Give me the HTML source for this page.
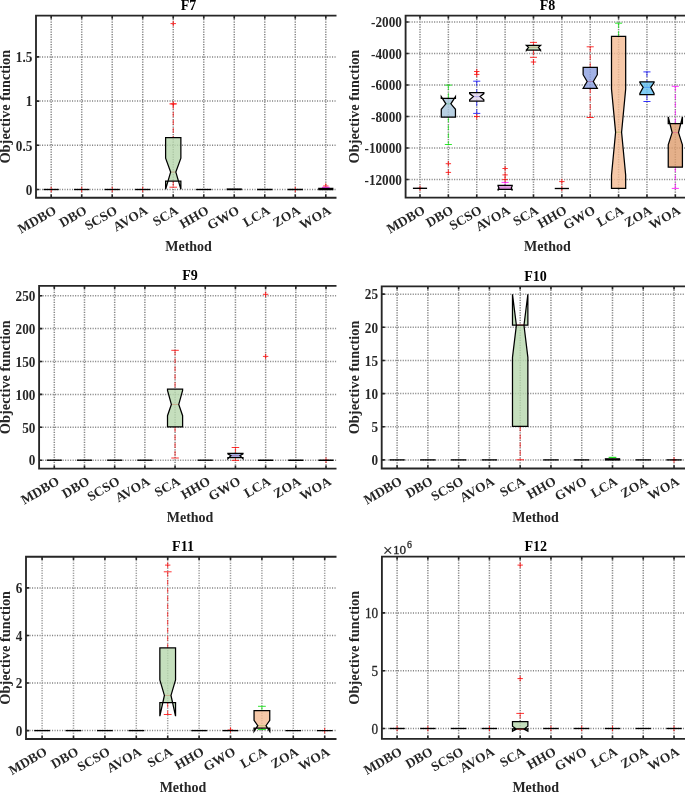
<!DOCTYPE html>
<html><head><meta charset="utf-8"><style>
html,body{margin:0;padding:0;background:#fff;}
body{width:685px;height:792px;overflow:hidden;}
svg{display:block;font-family:"Liberation Serif", serif;will-change:transform;}
</style></head><body>
<svg width="685" height="792" viewBox="0 0 685 792">
<rect width="685" height="792" fill="#fff"/>
<clipPath id="c1"><rect x="0" y="0" width="336.5" height="792"/></clipPath>
<g clip-path="url(#c1)">
<path d="M51.2 16.6V196.7M81.71 16.6V196.7M112.22 16.6V196.7M142.73 16.6V196.7M173.24 16.6V196.7M203.75 16.6V196.7M234.26 16.6V196.7M264.77 16.6V196.7M295.28 16.6V196.7M325.79 16.6V196.7M37 189.5H341M37 145.3H341M37 101.1H341M37 56.9H341" stroke="#5e5e5e" stroke-width="1.5" stroke-dasharray="1.1 1.4" opacity="0.75" fill="none"/>
<path d="M48.5 189.5H53.9M51.2 186.8V192.2" stroke="#ff0000" stroke-width="0.95" opacity="0.85"/>
<line x1="43.57" y1="189.5" x2="58.83" y2="189.5" stroke="#000" stroke-width="1.35"/>
<path d="M79.01 189.5H84.41M81.71 186.8V192.2" stroke="#ff0000" stroke-width="0.95" opacity="0.85"/>
<line x1="74.08" y1="189.5" x2="89.34" y2="189.5" stroke="#000" stroke-width="1.35"/>
<path d="M109.52 189.5H114.92M112.22 186.8V192.2" stroke="#ff0000" stroke-width="0.95" opacity="0.85"/>
<line x1="104.59" y1="189.5" x2="119.85" y2="189.5" stroke="#000" stroke-width="1.35"/>
<path d="M140.03 189.5H145.43M142.73 186.8V192.2" stroke="#ff0000" stroke-width="0.95" opacity="0.85"/>
<line x1="135.1" y1="189.5" x2="150.36" y2="189.5" stroke="#000" stroke-width="1.35"/>
<line x1="173.24" y1="103.9" x2="173.24" y2="137.6" stroke="#ff0000" stroke-width="1" stroke-dasharray="5 3" opacity="0.7"/>
<line x1="169.43" y1="103.9" x2="177.05" y2="103.9" stroke="#ff0000" stroke-width="1" opacity="0.8"/>
<line x1="173.24" y1="181" x2="173.24" y2="187.2" stroke="#ff0000" stroke-width="1" stroke-dasharray="5 3" opacity="0.7"/>
<line x1="169.43" y1="187.2" x2="177.05" y2="187.2" stroke="#ff0000" stroke-width="1" opacity="0.8"/>
<path d="M170.54 23.6H175.94M173.24 20.9V26.3" stroke="#ff0000" stroke-width="0.95" opacity="0.85"/>
<path d="M170.54 103.9H175.94M173.24 101.2V106.6" stroke="#ff0000" stroke-width="0.95" opacity="0.85"/>
<line x1="170.64" y1="172.1" x2="175.84" y2="172.1" stroke="#ff0000" stroke-width="1"/>
<path d="M165.61 137.6L180.87 137.6L180.87 158.1L175.84 172.1L180.87 189.3L180.87 181L165.61 181L165.61 189.3L170.64 172.1L165.61 158.1Z" fill="#b6d7ac" fill-opacity="0.8" stroke="#000" stroke-width="1.25" stroke-linejoin="miter"/>
<line x1="196.12" y1="189.5" x2="211.38" y2="189.5" stroke="#000" stroke-width="1.35"/>
<line x1="226.63" y1="189.3" x2="241.89" y2="189.3" stroke="#000" stroke-width="1.8"/>
<line x1="257.14" y1="189.5" x2="272.4" y2="189.5" stroke="#000" stroke-width="1.35"/>
<path d="M292.58 189.5H297.98M295.28 186.8V192.2" stroke="#ff0000" stroke-width="0.95" opacity="0.85"/>
<line x1="287.65" y1="189.5" x2="302.91" y2="189.5" stroke="#000" stroke-width="1.35"/>
<path d="M323.09 186H328.49M325.79 183.3V188.7" stroke="#ff0000" stroke-width="0.95" opacity="0.85"/>
<line x1="321.98" y1="187.3" x2="329.6" y2="187.3" stroke="#ff40ff" stroke-width="1.2"/>
<line x1="318.16" y1="189" x2="333.42" y2="189" stroke="#000" stroke-width="2.6"/>
<path d="M51.2 15.6V18.8M51.2 197.7V194.5M81.71 15.6V18.8M81.71 197.7V194.5M112.22 15.6V18.8M112.22 197.7V194.5M142.73 15.6V18.8M142.73 197.7V194.5M173.24 15.6V18.8M173.24 197.7V194.5M203.75 15.6V18.8M203.75 197.7V194.5M234.26 15.6V18.8M234.26 197.7V194.5M264.77 15.6V18.8M264.77 197.7V194.5M295.28 15.6V18.8M295.28 197.7V194.5M325.79 15.6V18.8M325.79 197.7V194.5M36 189.5H39.2M36 145.3H39.2M36 101.1H39.2M36 56.9H39.2" stroke="#262626" stroke-width="1.6" fill="none"/>
<path d="M36 15.6V197.7H342M36 15.6H342" stroke="#262626" stroke-width="1.85" fill="none" stroke-linecap="square"/>
</g>
<text x="0" y="0" font-size="14.2" text-anchor="end" font-weight="bold" fill="#262626" transform="translate(32.3 194.7) scale(0.93 1)">0</text>
<text x="0" y="0" font-size="14.2" text-anchor="end" font-weight="bold" fill="#262626" transform="translate(32.3 150.5) scale(0.93 1)">0.5</text>
<text x="0" y="0" font-size="14.2" text-anchor="end" font-weight="bold" fill="#262626" transform="translate(32.3 106.3) scale(0.93 1)">1</text>
<text x="0" y="0" font-size="14.2" text-anchor="end" font-weight="bold" fill="#262626" transform="translate(32.3 62.1) scale(0.93 1)">1.5</text>
<text x="0" y="0" font-size="13.4" text-anchor="end" font-weight="bold" fill="#262626" transform="translate(57.2 213) rotate(-30)">MDBO</text>
<text x="0" y="0" font-size="13.4" text-anchor="end" font-weight="bold" fill="#262626" transform="translate(87.71 213) rotate(-30)">DBO</text>
<text x="0" y="0" font-size="13.4" text-anchor="end" font-weight="bold" fill="#262626" transform="translate(118.22 213) rotate(-30)">SCSO</text>
<text x="0" y="0" font-size="13.4" text-anchor="end" font-weight="bold" fill="#262626" transform="translate(148.73 213) rotate(-30)">AVOA</text>
<text x="0" y="0" font-size="13.4" text-anchor="end" font-weight="bold" fill="#262626" transform="translate(179.24 213) rotate(-30)">SCA</text>
<text x="0" y="0" font-size="13.4" text-anchor="end" font-weight="bold" fill="#262626" transform="translate(209.75 213) rotate(-30)">HHO</text>
<text x="0" y="0" font-size="13.4" text-anchor="end" font-weight="bold" fill="#262626" transform="translate(240.26 213) rotate(-30)">GWO</text>
<text x="0" y="0" font-size="13.4" text-anchor="end" font-weight="bold" fill="#262626" transform="translate(270.77 213) rotate(-30)">LCA</text>
<text x="0" y="0" font-size="13.4" text-anchor="end" font-weight="bold" fill="#262626" transform="translate(301.28 213) rotate(-30)">ZOA</text>
<text x="0" y="0" font-size="13.4" text-anchor="end" font-weight="bold" fill="#262626" transform="translate(331.79 213) rotate(-30)">WOA</text>
<text x="188.55" y="10.1" font-size="14" text-anchor="middle" font-weight="bold" fill="#000">F7</text>
<text x="188.55" y="251" font-size="14" text-anchor="middle" font-weight="bold" fill="#262626">Method</text>
<text x="0" y="0" font-size="14.4" text-anchor="middle" font-weight="bold" fill="#262626" transform="translate(10 106.65) rotate(-90)">Objective function</text>
<clipPath id="c2"><rect x="340" y="0" width="346" height="792"/></clipPath>
<g clip-path="url(#c2)">
<path d="M420 16.6V196.6M448.37 16.6V196.6M476.74 16.6V196.6M505.11 16.6V196.6M533.48 16.6V196.6M561.85 16.6V196.6M590.22 16.6V196.6M618.59 16.6V196.6M646.96 16.6V196.6M675.33 16.6V196.6M406.6 22H699M406.6 53.5H699M406.6 85H699M406.6 116.5H699M406.6 148H699M406.6 179.5H699" stroke="#5e5e5e" stroke-width="1.5" stroke-dasharray="1.1 1.4" opacity="0.75" fill="none"/>
<path d="M417.3 188.3H422.7M420 185.6V191" stroke="#ff0000" stroke-width="0.95" opacity="0.85"/>
<line x1="412.91" y1="188.3" x2="427.09" y2="188.3" stroke="#000" stroke-width="1.35"/>
<line x1="448.37" y1="85.1" x2="448.37" y2="98.4" stroke="#00e000" stroke-width="1" stroke-dasharray="5 3" opacity="0.7"/>
<line x1="444.82" y1="85.1" x2="451.92" y2="85.1" stroke="#00e000" stroke-width="1" opacity="0.8"/>
<line x1="448.37" y1="117.2" x2="448.37" y2="144.5" stroke="#00e000" stroke-width="1" stroke-dasharray="5 3" opacity="0.7"/>
<line x1="444.82" y1="144.5" x2="451.92" y2="144.5" stroke="#00e000" stroke-width="1" opacity="0.8"/>
<path d="M445.67 163.7H451.07M448.37 161V166.4" stroke="#ff0000" stroke-width="0.95" opacity="0.85"/>
<path d="M445.67 172.4H451.07M448.37 169.7V175.1" stroke="#ff0000" stroke-width="0.95" opacity="0.85"/>
<line x1="445.87" y1="103.8" x2="450.87" y2="103.8" stroke="#00e000" stroke-width="1"/>
<path d="M441.28 98.4L455.46 98.4L455.46 96.7L450.87 103.8L455.46 109.3L455.46 117.2L441.28 117.2L441.28 109.3L445.87 103.8L441.28 96.7Z" fill="#a6c4db" fill-opacity="0.8" stroke="#000" stroke-width="1.25" stroke-linejoin="miter"/>
<line x1="476.74" y1="81.2" x2="476.74" y2="92.7" stroke="#0000ff" stroke-width="1" stroke-dasharray="5 3" opacity="0.7"/>
<line x1="473.19" y1="81.2" x2="480.29" y2="81.2" stroke="#0000ff" stroke-width="1" opacity="0.8"/>
<line x1="476.74" y1="101.1" x2="476.74" y2="113.4" stroke="#0000ff" stroke-width="1" stroke-dasharray="5 3" opacity="0.7"/>
<line x1="473.19" y1="113.4" x2="480.29" y2="113.4" stroke="#0000ff" stroke-width="1" opacity="0.8"/>
<path d="M474.04 71.5H479.44M476.74 68.8V74.2" stroke="#ff0000" stroke-width="0.95" opacity="0.85"/>
<path d="M474.04 74.4H479.44M476.74 71.7V77.1" stroke="#ff0000" stroke-width="0.95" opacity="0.85"/>
<path d="M474.04 116.5H479.44M476.74 113.8V119.2" stroke="#ff0000" stroke-width="0.95" opacity="0.85"/>
<line x1="473.34" y1="96.6" x2="480.14" y2="96.6" stroke="#0000ff" stroke-width="1"/>
<path d="M469.65 92.7L483.83 92.7L483.83 93.6L480.14 96.6L483.83 99.8L483.83 101.1L469.65 101.1L469.65 99.8L473.34 96.6L469.65 93.6Z" fill="#e2d6ec" fill-opacity="0.8" stroke="#000" stroke-width="1.25" stroke-linejoin="miter"/>
<line x1="505.11" y1="182.4" x2="505.11" y2="185.4" stroke="#ff00ff" stroke-width="1" stroke-dasharray="5 3" opacity="0.7"/>
<line x1="501.56" y1="182.4" x2="508.66" y2="182.4" stroke="#ff00ff" stroke-width="1" opacity="0.8"/>
<line x1="505.11" y1="189.4" x2="505.11" y2="189.5" stroke="#ff00ff" stroke-width="1" stroke-dasharray="5 3" opacity="0.7"/>
<line x1="501.56" y1="189.5" x2="508.66" y2="189.5" stroke="#ff00ff" stroke-width="1" opacity="0.8"/>
<path d="M502.41 168.5H507.81M505.11 165.8V171.2" stroke="#ff0000" stroke-width="0.95" opacity="0.85"/>
<path d="M502.41 174.9H507.81M505.11 172.2V177.6" stroke="#ff0000" stroke-width="0.95" opacity="0.85"/>
<path d="M502.41 179.6H507.81M505.11 176.9V182.3" stroke="#ff0000" stroke-width="0.95" opacity="0.85"/>
<line x1="498.91" y1="188" x2="511.31" y2="188" stroke="#ff00ff" stroke-width="1"/>
<path d="M498.02 185.4L512.2 185.4L512.2 185.9L511.31 188L512.2 190.6L512.2 189.4L498.02 189.4L498.02 190.6L498.91 188L498.02 185.9Z" fill="#d692d6" fill-opacity="0.8" stroke="#000" stroke-width="1.25" stroke-linejoin="miter"/>
<line x1="533.48" y1="42.4" x2="533.48" y2="45.4" stroke="#ff0000" stroke-width="1" stroke-dasharray="5 3" opacity="0.7"/>
<line x1="529.93" y1="42.4" x2="537.03" y2="42.4" stroke="#ff0000" stroke-width="1" opacity="0.8"/>
<line x1="533.48" y1="50.1" x2="533.48" y2="57.3" stroke="#ff0000" stroke-width="1" stroke-dasharray="5 3" opacity="0.7"/>
<line x1="529.93" y1="57.3" x2="537.03" y2="57.3" stroke="#ff0000" stroke-width="1" opacity="0.8"/>
<path d="M530.78 62H536.18M533.48 59.3V64.7" stroke="#ff0000" stroke-width="0.95" opacity="0.85"/>
<line x1="528.48" y1="47.3" x2="538.48" y2="47.3" stroke="#ff0000" stroke-width="1"/>
<path d="M526.39 45.4L540.57 45.4L540.57 45.4L538.48 47.3L540.57 50.2L540.57 50.1L526.39 50.1L526.39 50.2L528.48 47.3L526.39 45.4Z" fill="#b6d7ac" fill-opacity="0.8" stroke="#000" stroke-width="1.25" stroke-linejoin="miter"/>
<path d="M559.15 181.6H564.55M561.85 178.9V184.3" stroke="#ff0000" stroke-width="0.95" opacity="0.85"/>
<path d="M559.15 188.5H564.55M561.85 185.8V191.2" stroke="#ff0000" stroke-width="0.95" opacity="0.85"/>
<line x1="554.76" y1="188.5" x2="568.94" y2="188.5" stroke="#000" stroke-width="1.35"/>
<line x1="590.22" y1="46.8" x2="590.22" y2="67.3" stroke="#ff0000" stroke-width="1" stroke-dasharray="5 3" opacity="0.7"/>
<line x1="586.67" y1="46.8" x2="593.77" y2="46.8" stroke="#ff0000" stroke-width="1" opacity="0.8"/>
<line x1="590.22" y1="88.3" x2="590.22" y2="117.5" stroke="#ff0000" stroke-width="1" stroke-dasharray="5 3" opacity="0.7"/>
<line x1="586.67" y1="117.5" x2="593.77" y2="117.5" stroke="#ff0000" stroke-width="1" opacity="0.8"/>
<line x1="587.12" y1="81.5" x2="593.32" y2="81.5" stroke="#ff0000" stroke-width="1"/>
<path d="M583.13 67.3L597.31 67.3L597.31 74.7L593.32 81.5L597.31 88.3L597.31 88.3L583.13 88.3L583.13 88.3L587.12 81.5L583.13 74.7Z" fill="#8b9fe0" fill-opacity="0.8" stroke="#000" stroke-width="1.25" stroke-linejoin="miter"/>
<line x1="618.59" y1="23.2" x2="618.59" y2="36.3" stroke="#00e000" stroke-width="1" stroke-dasharray="5 3" opacity="0.7"/>
<line x1="615.04" y1="23.2" x2="622.14" y2="23.2" stroke="#00e000" stroke-width="1" opacity="0.8"/>
<line x1="618.59" y1="188.4" x2="618.59" y2="188.4" stroke="#00e000" stroke-width="1" stroke-dasharray="5 3" opacity="0.7"/>
<line x1="615.04" y1="188.4" x2="622.14" y2="188.4" stroke="#00e000" stroke-width="1" opacity="0.8"/>
<line x1="615.59" y1="132.2" x2="621.59" y2="132.2" stroke="#00e000" stroke-width="1"/>
<path d="M611.5 36.3L625.68 36.3L625.68 89L621.59 132.2L625.68 175.3L625.68 188.4L611.5 188.4L611.5 175.3L615.59 132.2L611.5 89Z" fill="#f4ba92" fill-opacity="0.8" stroke="#000" stroke-width="1.25" stroke-linejoin="miter"/>
<line x1="646.96" y1="71.9" x2="646.96" y2="81.8" stroke="#0000ff" stroke-width="1" stroke-dasharray="5 3" opacity="0.7"/>
<line x1="643.41" y1="71.9" x2="650.51" y2="71.9" stroke="#0000ff" stroke-width="1" opacity="0.8"/>
<line x1="646.96" y1="94.7" x2="646.96" y2="101.5" stroke="#0000ff" stroke-width="1" stroke-dasharray="5 3" opacity="0.7"/>
<line x1="643.41" y1="101.5" x2="650.51" y2="101.5" stroke="#0000ff" stroke-width="1" opacity="0.8"/>
<line x1="643.16" y1="87.3" x2="650.76" y2="87.3" stroke="#0000ff" stroke-width="1"/>
<path d="M639.87 81.8L654.05 81.8L654.05 82.5L650.76 87.3L654.05 93.5L654.05 94.7L639.87 94.7L639.87 93.5L643.16 87.3L639.87 82.5Z" fill="#60bff1" fill-opacity="0.8" stroke="#000" stroke-width="1.25" stroke-linejoin="miter"/>
<line x1="675.33" y1="86.3" x2="675.33" y2="123.6" stroke="#ff00ff" stroke-width="1" stroke-dasharray="5 3" opacity="0.7"/>
<line x1="671.78" y1="86.3" x2="678.88" y2="86.3" stroke="#ff00ff" stroke-width="1" opacity="0.8"/>
<line x1="675.33" y1="167.2" x2="675.33" y2="188.4" stroke="#ff00ff" stroke-width="1" stroke-dasharray="5 3" opacity="0.7"/>
<line x1="671.78" y1="188.4" x2="678.88" y2="188.4" stroke="#ff00ff" stroke-width="1" opacity="0.8"/>
<line x1="672.13" y1="132.6" x2="678.53" y2="132.6" stroke="#ff00ff" stroke-width="1"/>
<path d="M668.24 123.6L682.42 123.6L682.42 117L678.53 132.6L682.42 144.8L682.42 167.2L668.24 167.2L668.24 144.8L672.13 132.6L668.24 117Z" fill="#dd9c6d" fill-opacity="0.8" stroke="#000" stroke-width="1.25" stroke-linejoin="miter"/>
<path d="M420 15.6V18.8M420 197.6V194.4M448.37 15.6V18.8M448.37 197.6V194.4M476.74 15.6V18.8M476.74 197.6V194.4M505.11 15.6V18.8M505.11 197.6V194.4M533.48 15.6V18.8M533.48 197.6V194.4M561.85 15.6V18.8M561.85 197.6V194.4M590.22 15.6V18.8M590.22 197.6V194.4M618.59 15.6V18.8M618.59 197.6V194.4M646.96 15.6V18.8M646.96 197.6V194.4M675.33 15.6V18.8M675.33 197.6V194.4M405.6 22H408.8M405.6 53.5H408.8M405.6 85H408.8M405.6 116.5H408.8M405.6 148H408.8M405.6 179.5H408.8" stroke="#262626" stroke-width="1.6" fill="none"/>
<path d="M405.6 15.6V197.6H700M405.6 15.6H700" stroke="#262626" stroke-width="1.85" fill="none" stroke-linecap="square"/>
</g>
<text x="0" y="0" font-size="14.2" text-anchor="end" font-weight="bold" fill="#262626" transform="translate(401.9 27.2) scale(0.93 1)">-2000</text>
<text x="0" y="0" font-size="14.2" text-anchor="end" font-weight="bold" fill="#262626" transform="translate(401.9 58.7) scale(0.93 1)">-4000</text>
<text x="0" y="0" font-size="14.2" text-anchor="end" font-weight="bold" fill="#262626" transform="translate(401.9 90.2) scale(0.93 1)">-6000</text>
<text x="0" y="0" font-size="14.2" text-anchor="end" font-weight="bold" fill="#262626" transform="translate(401.9 121.7) scale(0.93 1)">-8000</text>
<text x="0" y="0" font-size="14.2" text-anchor="end" font-weight="bold" fill="#262626" transform="translate(401.9 153.2) scale(0.93 1)">-10000</text>
<text x="0" y="0" font-size="14.2" text-anchor="end" font-weight="bold" fill="#262626" transform="translate(401.9 184.7) scale(0.93 1)">-12000</text>
<text x="0" y="0" font-size="13.4" text-anchor="end" font-weight="bold" fill="#262626" transform="translate(426 212.9) rotate(-30)">MDBO</text>
<text x="0" y="0" font-size="13.4" text-anchor="end" font-weight="bold" fill="#262626" transform="translate(454.37 212.9) rotate(-30)">DBO</text>
<text x="0" y="0" font-size="13.4" text-anchor="end" font-weight="bold" fill="#262626" transform="translate(482.74 212.9) rotate(-30)">SCSO</text>
<text x="0" y="0" font-size="13.4" text-anchor="end" font-weight="bold" fill="#262626" transform="translate(511.11 212.9) rotate(-30)">AVOA</text>
<text x="0" y="0" font-size="13.4" text-anchor="end" font-weight="bold" fill="#262626" transform="translate(539.48 212.9) rotate(-30)">SCA</text>
<text x="0" y="0" font-size="13.4" text-anchor="end" font-weight="bold" fill="#262626" transform="translate(567.85 212.9) rotate(-30)">HHO</text>
<text x="0" y="0" font-size="13.4" text-anchor="end" font-weight="bold" fill="#262626" transform="translate(596.22 212.9) rotate(-30)">GWO</text>
<text x="0" y="0" font-size="13.4" text-anchor="end" font-weight="bold" fill="#262626" transform="translate(624.59 212.9) rotate(-30)">LCA</text>
<text x="0" y="0" font-size="13.4" text-anchor="end" font-weight="bold" fill="#262626" transform="translate(652.96 212.9) rotate(-30)">ZOA</text>
<text x="0" y="0" font-size="13.4" text-anchor="end" font-weight="bold" fill="#262626" transform="translate(681.33 212.9) rotate(-30)">WOA</text>
<text x="547.45" y="10.1" font-size="14" text-anchor="middle" font-weight="bold" fill="#000">F8</text>
<text x="547.45" y="250.9" font-size="14" text-anchor="middle" font-weight="bold" fill="#262626">Method</text>
<text x="0" y="0" font-size="14.4" text-anchor="middle" font-weight="bold" fill="#262626" transform="translate(358.8 106.6) rotate(-90)">Objective function</text>
<clipPath id="c3"><rect x="0" y="0" width="336.5" height="792"/></clipPath>
<g clip-path="url(#c3)">
<path d="M54.3 286.8V467.6M84.49 286.8V467.6M114.68 286.8V467.6M144.87 286.8V467.6M175.06 286.8V467.6M205.25 286.8V467.6M235.44 286.8V467.6M265.63 286.8V467.6M295.82 286.8V467.6M326.01 286.8V467.6M40.1 460.2H344M40.1 427.3H344M40.1 394.4H344M40.1 361.5H344M40.1 328.6H344M40.1 295.7H344" stroke="#5e5e5e" stroke-width="1.5" stroke-dasharray="1.1 1.4" opacity="0.75" fill="none"/>
<line x1="46.75" y1="460.2" x2="61.85" y2="460.2" stroke="#000" stroke-width="1.35"/>
<line x1="76.94" y1="460.2" x2="92.04" y2="460.2" stroke="#000" stroke-width="1.35"/>
<line x1="107.13" y1="460.2" x2="122.23" y2="460.2" stroke="#000" stroke-width="1.35"/>
<line x1="137.32" y1="460.2" x2="152.42" y2="460.2" stroke="#000" stroke-width="1.35"/>
<line x1="175.06" y1="350.3" x2="175.06" y2="389.2" stroke="#ff0000" stroke-width="1" stroke-dasharray="5 3" opacity="0.7"/>
<line x1="171.29" y1="350.3" x2="178.83" y2="350.3" stroke="#ff0000" stroke-width="1" opacity="0.8"/>
<line x1="175.06" y1="426.9" x2="175.06" y2="458" stroke="#ff0000" stroke-width="1" stroke-dasharray="5 3" opacity="0.7"/>
<line x1="171.29" y1="458" x2="178.83" y2="458" stroke="#ff0000" stroke-width="1" opacity="0.8"/>
<line x1="171.36" y1="404.4" x2="178.76" y2="404.4" stroke="#ff0000" stroke-width="1"/>
<path d="M167.51 389.2L182.61 389.2L182.61 390.5L178.76 404.4L182.61 415.7L182.61 426.9L167.51 426.9L167.51 415.7L171.36 404.4L167.51 390.5Z" fill="#b6d7ac" fill-opacity="0.8" stroke="#000" stroke-width="1.25" stroke-linejoin="miter"/>
<line x1="197.7" y1="460.2" x2="212.8" y2="460.2" stroke="#000" stroke-width="1.35"/>
<line x1="235.44" y1="447.5" x2="235.44" y2="453.4" stroke="#ff0000" stroke-width="1" stroke-dasharray="5 3" opacity="0.7"/>
<line x1="231.67" y1="447.5" x2="239.21" y2="447.5" stroke="#ff0000" stroke-width="1" opacity="0.8"/>
<line x1="235.44" y1="457.7" x2="235.44" y2="460.4" stroke="#ff0000" stroke-width="1" stroke-dasharray="5 3" opacity="0.7"/>
<line x1="231.67" y1="460.4" x2="239.21" y2="460.4" stroke="#ff0000" stroke-width="1" opacity="0.8"/>
<line x1="230.94" y1="455.7" x2="239.94" y2="455.7" stroke="#ff0000" stroke-width="1"/>
<path d="M227.89 453.4L242.99 453.4L242.99 453.8L239.94 455.7L242.99 458.8L242.99 457.7L227.89 457.7L227.89 458.8L230.94 455.7L227.89 453.8Z" fill="#8b9fe0" fill-opacity="0.8" stroke="#000" stroke-width="1.25" stroke-linejoin="miter"/>
<path d="M262.93 294.3H268.33M265.63 291.6V297" stroke="#ff0000" stroke-width="0.95" opacity="0.85"/>
<path d="M262.93 356.4H268.33M265.63 353.7V359.1" stroke="#ff0000" stroke-width="0.95" opacity="0.85"/>
<line x1="258.08" y1="460.2" x2="273.18" y2="460.2" stroke="#000" stroke-width="1.35"/>
<line x1="288.27" y1="460.2" x2="303.37" y2="460.2" stroke="#000" stroke-width="1.35"/>
<path d="M323.31 460.2H328.71M326.01 457.5V462.9" stroke="#ff0000" stroke-width="0.95" opacity="0.85"/>
<line x1="318.46" y1="460.2" x2="333.56" y2="460.2" stroke="#000" stroke-width="1.35"/>
<path d="M54.3 285.8V289M54.3 468.6V465.4M84.49 285.8V289M84.49 468.6V465.4M114.68 285.8V289M114.68 468.6V465.4M144.87 285.8V289M144.87 468.6V465.4M175.06 285.8V289M175.06 468.6V465.4M205.25 285.8V289M205.25 468.6V465.4M235.44 285.8V289M235.44 468.6V465.4M265.63 285.8V289M265.63 468.6V465.4M295.82 285.8V289M295.82 468.6V465.4M326.01 285.8V289M326.01 468.6V465.4M39.1 460.2H42.3M39.1 427.3H42.3M39.1 394.4H42.3M39.1 361.5H42.3M39.1 328.6H42.3M39.1 295.7H42.3" stroke="#262626" stroke-width="1.6" fill="none"/>
<path d="M39.1 285.8V468.6H345M39.1 285.8H345" stroke="#262626" stroke-width="1.85" fill="none" stroke-linecap="square"/>
</g>
<text x="0" y="0" font-size="14.2" text-anchor="end" font-weight="bold" fill="#262626" transform="translate(35.4 465.4) scale(0.93 1)">0</text>
<text x="0" y="0" font-size="14.2" text-anchor="end" font-weight="bold" fill="#262626" transform="translate(35.4 432.5) scale(0.93 1)">50</text>
<text x="0" y="0" font-size="14.2" text-anchor="end" font-weight="bold" fill="#262626" transform="translate(35.4 399.6) scale(0.93 1)">100</text>
<text x="0" y="0" font-size="14.2" text-anchor="end" font-weight="bold" fill="#262626" transform="translate(35.4 366.7) scale(0.93 1)">150</text>
<text x="0" y="0" font-size="14.2" text-anchor="end" font-weight="bold" fill="#262626" transform="translate(35.4 333.8) scale(0.93 1)">200</text>
<text x="0" y="0" font-size="14.2" text-anchor="end" font-weight="bold" fill="#262626" transform="translate(35.4 300.9) scale(0.93 1)">250</text>
<text x="0" y="0" font-size="13.4" text-anchor="end" font-weight="bold" fill="#262626" transform="translate(60.3 483.9) rotate(-30)">MDBO</text>
<text x="0" y="0" font-size="13.4" text-anchor="end" font-weight="bold" fill="#262626" transform="translate(90.49 483.9) rotate(-30)">DBO</text>
<text x="0" y="0" font-size="13.4" text-anchor="end" font-weight="bold" fill="#262626" transform="translate(120.68 483.9) rotate(-30)">SCSO</text>
<text x="0" y="0" font-size="13.4" text-anchor="end" font-weight="bold" fill="#262626" transform="translate(150.87 483.9) rotate(-30)">AVOA</text>
<text x="0" y="0" font-size="13.4" text-anchor="end" font-weight="bold" fill="#262626" transform="translate(181.06 483.9) rotate(-30)">SCA</text>
<text x="0" y="0" font-size="13.4" text-anchor="end" font-weight="bold" fill="#262626" transform="translate(211.25 483.9) rotate(-30)">HHO</text>
<text x="0" y="0" font-size="13.4" text-anchor="end" font-weight="bold" fill="#262626" transform="translate(241.44 483.9) rotate(-30)">GWO</text>
<text x="0" y="0" font-size="13.4" text-anchor="end" font-weight="bold" fill="#262626" transform="translate(271.63 483.9) rotate(-30)">LCA</text>
<text x="0" y="0" font-size="13.4" text-anchor="end" font-weight="bold" fill="#262626" transform="translate(301.82 483.9) rotate(-30)">ZOA</text>
<text x="0" y="0" font-size="13.4" text-anchor="end" font-weight="bold" fill="#262626" transform="translate(332.01 483.9) rotate(-30)">WOA</text>
<text x="190.05" y="280.3" font-size="14" text-anchor="middle" font-weight="bold" fill="#000">F9</text>
<text x="190.05" y="521.9" font-size="14" text-anchor="middle" font-weight="bold" fill="#262626">Method</text>
<text x="0" y="0" font-size="14.4" text-anchor="middle" font-weight="bold" fill="#262626" transform="translate(10 377.2) rotate(-90)">Objective function</text>
<clipPath id="c4"><rect x="340" y="0" width="346" height="792"/></clipPath>
<g clip-path="url(#c4)">
<path d="M397.1 287.3V467.5M427.87 287.3V467.5M458.64 287.3V467.5M489.41 287.3V467.5M520.18 287.3V467.5M550.95 287.3V467.5M581.72 287.3V467.5M612.49 287.3V467.5M643.26 287.3V467.5M674.03 287.3V467.5M382.7 459.9H699M382.7 426.75H699M382.7 393.6H699M382.7 360.45H699M382.7 327.3H699M382.7 294.15H699" stroke="#5e5e5e" stroke-width="1.5" stroke-dasharray="1.1 1.4" opacity="0.75" fill="none"/>
<line x1="389.41" y1="459.9" x2="404.79" y2="459.9" stroke="#000" stroke-width="1.35"/>
<line x1="420.18" y1="459.9" x2="435.56" y2="459.9" stroke="#000" stroke-width="1.35"/>
<line x1="450.95" y1="459.9" x2="466.33" y2="459.9" stroke="#000" stroke-width="1.35"/>
<line x1="481.72" y1="459.9" x2="497.1" y2="459.9" stroke="#000" stroke-width="1.35"/>
<line x1="520.18" y1="426.4" x2="520.18" y2="459.8" stroke="#ff0000" stroke-width="1" stroke-dasharray="5 3" opacity="0.7"/>
<line x1="516.33" y1="459.8" x2="524.03" y2="459.8" stroke="#ff0000" stroke-width="1" opacity="0.8"/>
<line x1="516.38" y1="325.2" x2="523.98" y2="325.2" stroke="#ff0000" stroke-width="1"/>
<path d="M512.49 325.2L527.87 325.2L527.87 294.3L523.98 325.2L527.87 357.4L527.87 426.4L512.49 426.4L512.49 357.4L516.38 325.2L512.49 294.3Z" fill="#b6d7ac" fill-opacity="0.8" stroke="#000" stroke-width="1.25" stroke-linejoin="miter"/>
<line x1="543.26" y1="459.9" x2="558.64" y2="459.9" stroke="#000" stroke-width="1.35"/>
<line x1="574.03" y1="459.9" x2="589.41" y2="459.9" stroke="#000" stroke-width="1.35"/>
<line x1="608.64" y1="457.4" x2="616.34" y2="457.4" stroke="#20e020" stroke-width="1.2"/>
<line x1="604.8" y1="459.4" x2="620.18" y2="459.4" stroke="#000" stroke-width="2.4"/>
<line x1="635.57" y1="459.9" x2="650.95" y2="459.9" stroke="#000" stroke-width="1.35"/>
<path d="M671.33 459.9H676.73M674.03 457.2V462.6" stroke="#ff0000" stroke-width="0.95" opacity="0.85"/>
<line x1="666.34" y1="459.9" x2="681.72" y2="459.9" stroke="#000" stroke-width="1.35"/>
<path d="M397.1 286.3V289.5M397.1 468.5V465.3M427.87 286.3V289.5M427.87 468.5V465.3M458.64 286.3V289.5M458.64 468.5V465.3M489.41 286.3V289.5M489.41 468.5V465.3M520.18 286.3V289.5M520.18 468.5V465.3M550.95 286.3V289.5M550.95 468.5V465.3M581.72 286.3V289.5M581.72 468.5V465.3M612.49 286.3V289.5M612.49 468.5V465.3M643.26 286.3V289.5M643.26 468.5V465.3M674.03 286.3V289.5M674.03 468.5V465.3M381.7 459.9H384.9M381.7 426.75H384.9M381.7 393.6H384.9M381.7 360.45H384.9M381.7 327.3H384.9M381.7 294.15H384.9" stroke="#262626" stroke-width="1.6" fill="none"/>
<path d="M381.7 286.3V468.5H700M381.7 286.3H700" stroke="#262626" stroke-width="1.85" fill="none" stroke-linecap="square"/>
</g>
<text x="0" y="0" font-size="14.2" text-anchor="end" font-weight="bold" fill="#262626" transform="translate(378 465.1) scale(0.93 1)">0</text>
<text x="0" y="0" font-size="14.2" text-anchor="end" font-weight="bold" fill="#262626" transform="translate(378 431.95) scale(0.93 1)">5</text>
<text x="0" y="0" font-size="14.2" text-anchor="end" font-weight="bold" fill="#262626" transform="translate(378 398.8) scale(0.93 1)">10</text>
<text x="0" y="0" font-size="14.2" text-anchor="end" font-weight="bold" fill="#262626" transform="translate(378 365.65) scale(0.93 1)">15</text>
<text x="0" y="0" font-size="14.2" text-anchor="end" font-weight="bold" fill="#262626" transform="translate(378 332.5) scale(0.93 1)">20</text>
<text x="0" y="0" font-size="14.2" text-anchor="end" font-weight="bold" fill="#262626" transform="translate(378 299.35) scale(0.93 1)">25</text>
<text x="0" y="0" font-size="13.4" text-anchor="end" font-weight="bold" fill="#262626" transform="translate(403.1 483.8) rotate(-30)">MDBO</text>
<text x="0" y="0" font-size="13.4" text-anchor="end" font-weight="bold" fill="#262626" transform="translate(433.87 483.8) rotate(-30)">DBO</text>
<text x="0" y="0" font-size="13.4" text-anchor="end" font-weight="bold" fill="#262626" transform="translate(464.64 483.8) rotate(-30)">SCSO</text>
<text x="0" y="0" font-size="13.4" text-anchor="end" font-weight="bold" fill="#262626" transform="translate(495.41 483.8) rotate(-30)">AVOA</text>
<text x="0" y="0" font-size="13.4" text-anchor="end" font-weight="bold" fill="#262626" transform="translate(526.18 483.8) rotate(-30)">SCA</text>
<text x="0" y="0" font-size="13.4" text-anchor="end" font-weight="bold" fill="#262626" transform="translate(556.95 483.8) rotate(-30)">HHO</text>
<text x="0" y="0" font-size="13.4" text-anchor="end" font-weight="bold" fill="#262626" transform="translate(587.72 483.8) rotate(-30)">GWO</text>
<text x="0" y="0" font-size="13.4" text-anchor="end" font-weight="bold" fill="#262626" transform="translate(618.49 483.8) rotate(-30)">LCA</text>
<text x="0" y="0" font-size="13.4" text-anchor="end" font-weight="bold" fill="#262626" transform="translate(649.26 483.8) rotate(-30)">ZOA</text>
<text x="0" y="0" font-size="13.4" text-anchor="end" font-weight="bold" fill="#262626" transform="translate(680.03 483.8) rotate(-30)">WOA</text>
<text x="535.55" y="280.8" font-size="14" text-anchor="middle" font-weight="bold" fill="#000">F10</text>
<text x="535.55" y="521.8" font-size="14" text-anchor="middle" font-weight="bold" fill="#262626">Method</text>
<text x="0" y="0" font-size="14.4" text-anchor="middle" font-weight="bold" fill="#262626" transform="translate(358.8 377.4) rotate(-90)">Objective function</text>
<clipPath id="c5"><rect x="0" y="0" width="336.5" height="792"/></clipPath>
<g clip-path="url(#c5)">
<path d="M42.1 557.7V738M73.5 557.7V738M104.9 557.7V738M136.3 557.7V738M167.7 557.7V738M199.1 557.7V738M230.5 557.7V738M261.9 557.7V738M293.3 557.7V738M324.7 557.7V738M27 730.6H344M27 683.04H344M27 635.48H344M27 587.92H344" stroke="#5e5e5e" stroke-width="1.5" stroke-dasharray="1.1 1.4" opacity="0.75" fill="none"/>
<line x1="34.25" y1="730.6" x2="49.95" y2="730.6" stroke="#000" stroke-width="1.35"/>
<line x1="65.65" y1="730.6" x2="81.35" y2="730.6" stroke="#000" stroke-width="1.35"/>
<line x1="97.05" y1="730.6" x2="112.75" y2="730.6" stroke="#000" stroke-width="1.35"/>
<line x1="128.45" y1="730.6" x2="144.15" y2="730.6" stroke="#000" stroke-width="1.35"/>
<line x1="167.7" y1="571.8" x2="167.7" y2="647.9" stroke="#ff0000" stroke-width="1" stroke-dasharray="5 3" opacity="0.7"/>
<line x1="163.77" y1="571.8" x2="171.62" y2="571.8" stroke="#ff0000" stroke-width="1" opacity="0.8"/>
<line x1="167.7" y1="702.6" x2="167.7" y2="714.5" stroke="#ff0000" stroke-width="1" stroke-dasharray="5 3" opacity="0.7"/>
<line x1="163.77" y1="714.5" x2="171.62" y2="714.5" stroke="#ff0000" stroke-width="1" opacity="0.8"/>
<path d="M165 565.1H170.4M167.7 562.4V567.8" stroke="#ff0000" stroke-width="0.95" opacity="0.85"/>
<line x1="164.4" y1="695.4" x2="171" y2="695.4" stroke="#ff0000" stroke-width="1"/>
<path d="M159.85 647.9L175.55 647.9L175.55 679.8L171 695.4L175.55 716.2L175.55 702.6L159.85 702.6L159.85 716.2L164.4 695.4L159.85 679.8Z" fill="#b6d7ac" fill-opacity="0.8" stroke="#000" stroke-width="1.25" stroke-linejoin="miter"/>
<line x1="191.25" y1="730.6" x2="206.95" y2="730.6" stroke="#000" stroke-width="1.35"/>
<path d="M227.8 730H233.2M230.5 727.3V732.7" stroke="#ff0000" stroke-width="0.95" opacity="0.85"/>
<line x1="222.65" y1="730.6" x2="238.35" y2="730.6" stroke="#000" stroke-width="1.35"/>
<line x1="261.9" y1="706.3" x2="261.9" y2="710.5" stroke="#00e000" stroke-width="1" stroke-dasharray="5 3" opacity="0.7"/>
<line x1="257.97" y1="706.3" x2="265.82" y2="706.3" stroke="#00e000" stroke-width="1" opacity="0.8"/>
<line x1="261.9" y1="728.2" x2="261.9" y2="729.5" stroke="#00e000" stroke-width="1" stroke-dasharray="5 3" opacity="0.7"/>
<line x1="257.97" y1="729.5" x2="265.82" y2="729.5" stroke="#00e000" stroke-width="1" opacity="0.8"/>
<line x1="257.8" y1="725.7" x2="266" y2="725.7" stroke="#00e000" stroke-width="1"/>
<path d="M254.05 710.5L269.75 710.5L269.75 720.3L266 725.7L269.75 731.4L269.75 728.2L254.05 728.2L254.05 731.4L257.8 725.7L254.05 720.3Z" fill="#f4ba92" fill-opacity="0.8" stroke="#000" stroke-width="1.25" stroke-linejoin="miter"/>
<line x1="285.45" y1="730.6" x2="301.15" y2="730.6" stroke="#000" stroke-width="1.35"/>
<path d="M322 730.6H327.4M324.7 727.9V733.3" stroke="#ff0000" stroke-width="0.95" opacity="0.85"/>
<line x1="316.85" y1="730.6" x2="332.55" y2="730.6" stroke="#000" stroke-width="1.35"/>
<path d="M42.1 556.7V559.9M42.1 739V735.8M73.5 556.7V559.9M73.5 739V735.8M104.9 556.7V559.9M104.9 739V735.8M136.3 556.7V559.9M136.3 739V735.8M167.7 556.7V559.9M167.7 739V735.8M199.1 556.7V559.9M199.1 739V735.8M230.5 556.7V559.9M230.5 739V735.8M261.9 556.7V559.9M261.9 739V735.8M293.3 556.7V559.9M293.3 739V735.8M324.7 556.7V559.9M324.7 739V735.8M26 730.6H29.2M26 683.04H29.2M26 635.48H29.2M26 587.92H29.2" stroke="#262626" stroke-width="1.6" fill="none"/>
<path d="M26 556.7V739H345M26 556.7H345" stroke="#262626" stroke-width="1.85" fill="none" stroke-linecap="square"/>
</g>
<text x="0" y="0" font-size="14.2" text-anchor="end" font-weight="bold" fill="#262626" transform="translate(22.3 735.8) scale(0.93 1)">0</text>
<text x="0" y="0" font-size="14.2" text-anchor="end" font-weight="bold" fill="#262626" transform="translate(22.3 688.24) scale(0.93 1)">2</text>
<text x="0" y="0" font-size="14.2" text-anchor="end" font-weight="bold" fill="#262626" transform="translate(22.3 640.68) scale(0.93 1)">4</text>
<text x="0" y="0" font-size="14.2" text-anchor="end" font-weight="bold" fill="#262626" transform="translate(22.3 593.12) scale(0.93 1)">6</text>
<text x="0" y="0" font-size="13.4" text-anchor="end" font-weight="bold" fill="#262626" transform="translate(48.1 754.3) rotate(-30)">MDBO</text>
<text x="0" y="0" font-size="13.4" text-anchor="end" font-weight="bold" fill="#262626" transform="translate(79.5 754.3) rotate(-30)">DBO</text>
<text x="0" y="0" font-size="13.4" text-anchor="end" font-weight="bold" fill="#262626" transform="translate(110.9 754.3) rotate(-30)">SCSO</text>
<text x="0" y="0" font-size="13.4" text-anchor="end" font-weight="bold" fill="#262626" transform="translate(142.3 754.3) rotate(-30)">AVOA</text>
<text x="0" y="0" font-size="13.4" text-anchor="end" font-weight="bold" fill="#262626" transform="translate(173.7 754.3) rotate(-30)">SCA</text>
<text x="0" y="0" font-size="13.4" text-anchor="end" font-weight="bold" fill="#262626" transform="translate(205.1 754.3) rotate(-30)">HHO</text>
<text x="0" y="0" font-size="13.4" text-anchor="end" font-weight="bold" fill="#262626" transform="translate(236.5 754.3) rotate(-30)">GWO</text>
<text x="0" y="0" font-size="13.4" text-anchor="end" font-weight="bold" fill="#262626" transform="translate(267.9 754.3) rotate(-30)">LCA</text>
<text x="0" y="0" font-size="13.4" text-anchor="end" font-weight="bold" fill="#262626" transform="translate(299.3 754.3) rotate(-30)">ZOA</text>
<text x="0" y="0" font-size="13.4" text-anchor="end" font-weight="bold" fill="#262626" transform="translate(330.7 754.3) rotate(-30)">WOA</text>
<text x="183" y="551.2" font-size="14" text-anchor="middle" font-weight="bold" fill="#000">F11</text>
<text x="183" y="792.3" font-size="14" text-anchor="middle" font-weight="bold" fill="#262626">Method</text>
<text x="0" y="0" font-size="14.4" text-anchor="middle" font-weight="bold" fill="#262626" transform="translate(10 647.85) rotate(-90)">Objective function</text>
<clipPath id="c6"><rect x="340" y="0" width="346" height="792"/></clipPath>
<g clip-path="url(#c6)">
<path d="M397.1 557.6V737.9M427.87 557.6V737.9M458.64 557.6V737.9M489.41 557.6V737.9M520.18 557.6V737.9M550.95 557.6V737.9M581.72 557.6V737.9M612.49 557.6V737.9M643.26 557.6V737.9M674.03 557.6V737.9M382.9 728.5H699M382.9 670.7H699M382.9 612.9H699" stroke="#5e5e5e" stroke-width="1.5" stroke-dasharray="1.1 1.4" opacity="0.75" fill="none"/>
<path d="M394.4 728.5H399.8M397.1 725.8V731.2" stroke="#ff0000" stroke-width="0.95" opacity="0.85"/>
<line x1="389.41" y1="728.5" x2="404.79" y2="728.5" stroke="#000" stroke-width="1.35"/>
<path d="M425.17 728.5H430.57M427.87 725.8V731.2" stroke="#ff0000" stroke-width="0.95" opacity="0.85"/>
<line x1="420.18" y1="728.5" x2="435.56" y2="728.5" stroke="#000" stroke-width="1.35"/>
<line x1="450.95" y1="728.5" x2="466.33" y2="728.5" stroke="#000" stroke-width="1.35"/>
<path d="M486.71 728.5H492.11M489.41 725.8V731.2" stroke="#ff0000" stroke-width="0.95" opacity="0.85"/>
<line x1="481.72" y1="728.5" x2="497.1" y2="728.5" stroke="#000" stroke-width="1.35"/>
<line x1="520.18" y1="713.4" x2="520.18" y2="721.6" stroke="#ff0000" stroke-width="1" stroke-dasharray="5 3" opacity="0.7"/>
<line x1="516.33" y1="713.4" x2="524.03" y2="713.4" stroke="#ff0000" stroke-width="1" opacity="0.8"/>
<line x1="520.18" y1="728.8" x2="520.18" y2="728.5" stroke="#ff0000" stroke-width="1" stroke-dasharray="5 3" opacity="0.7"/>
<line x1="516.33" y1="728.5" x2="524.03" y2="728.5" stroke="#ff0000" stroke-width="1" opacity="0.8"/>
<path d="M517.48 565.1H522.88M520.18 562.4V567.8" stroke="#ff0000" stroke-width="0.95" opacity="0.85"/>
<path d="M517.48 678.6H522.88M520.18 675.9V681.3" stroke="#ff0000" stroke-width="0.95" opacity="0.85"/>
<line x1="516.38" y1="729.1" x2="523.98" y2="729.1" stroke="#ff0000" stroke-width="1"/>
<path d="M512.49 721.6L527.87 721.6L527.87 726.2L523.98 729.1L527.87 731.3L527.87 728.8L512.49 728.8L512.49 731.3L516.38 729.1L512.49 726.2Z" fill="#b6d7ac" fill-opacity="0.8" stroke="#000" stroke-width="1.25" stroke-linejoin="miter"/>
<path d="M548.25 728.5H553.65M550.95 725.8V731.2" stroke="#ff0000" stroke-width="0.95" opacity="0.85"/>
<line x1="543.26" y1="728.5" x2="558.64" y2="728.5" stroke="#000" stroke-width="1.35"/>
<path d="M579.02 728.5H584.42M581.72 725.8V731.2" stroke="#ff0000" stroke-width="0.95" opacity="0.85"/>
<line x1="574.03" y1="728.5" x2="589.41" y2="728.5" stroke="#000" stroke-width="1.35"/>
<path d="M609.79 728.5H615.19M612.49 725.8V731.2" stroke="#ff0000" stroke-width="0.95" opacity="0.85"/>
<line x1="604.8" y1="728.5" x2="620.18" y2="728.5" stroke="#000" stroke-width="1.35"/>
<line x1="635.57" y1="728.5" x2="650.95" y2="728.5" stroke="#000" stroke-width="1.35"/>
<path d="M671.33 728.5H676.73M674.03 725.8V731.2" stroke="#ff0000" stroke-width="0.95" opacity="0.85"/>
<line x1="666.34" y1="728.5" x2="681.72" y2="728.5" stroke="#000" stroke-width="1.35"/>
<path d="M397.1 556.6V559.8M397.1 738.9V735.7M427.87 556.6V559.8M427.87 738.9V735.7M458.64 556.6V559.8M458.64 738.9V735.7M489.41 556.6V559.8M489.41 738.9V735.7M520.18 556.6V559.8M520.18 738.9V735.7M550.95 556.6V559.8M550.95 738.9V735.7M581.72 556.6V559.8M581.72 738.9V735.7M612.49 556.6V559.8M612.49 738.9V735.7M643.26 556.6V559.8M643.26 738.9V735.7M674.03 556.6V559.8M674.03 738.9V735.7M381.9 728.5H385.1M381.9 670.7H385.1M381.9 612.9H385.1" stroke="#262626" stroke-width="1.6" fill="none"/>
<path d="M381.9 556.6V738.9H700M381.9 556.6H700" stroke="#262626" stroke-width="1.85" fill="none" stroke-linecap="square"/>
</g>
<text x="0" y="0" font-size="14.2" text-anchor="end" font-weight="normal" fill="#262626" transform="translate(378.2 733.7) scale(0.93 1)" stroke="#262626" stroke-width="0.3">0</text>
<text x="0" y="0" font-size="14.2" text-anchor="end" font-weight="normal" fill="#262626" transform="translate(378.2 675.9) scale(0.93 1)" stroke="#262626" stroke-width="0.3">5</text>
<text x="0" y="0" font-size="14.2" text-anchor="end" font-weight="normal" fill="#262626" transform="translate(378.2 618.1) scale(0.93 1)" stroke="#262626" stroke-width="0.3">10</text>
<text x="0" y="0" font-size="13.4" text-anchor="end" font-weight="bold" fill="#262626" transform="translate(403.1 754.2) rotate(-30)">MDBO</text>
<text x="0" y="0" font-size="13.4" text-anchor="end" font-weight="bold" fill="#262626" transform="translate(433.87 754.2) rotate(-30)">DBO</text>
<text x="0" y="0" font-size="13.4" text-anchor="end" font-weight="bold" fill="#262626" transform="translate(464.64 754.2) rotate(-30)">SCSO</text>
<text x="0" y="0" font-size="13.4" text-anchor="end" font-weight="bold" fill="#262626" transform="translate(495.41 754.2) rotate(-30)">AVOA</text>
<text x="0" y="0" font-size="13.4" text-anchor="end" font-weight="bold" fill="#262626" transform="translate(526.18 754.2) rotate(-30)">SCA</text>
<text x="0" y="0" font-size="13.4" text-anchor="end" font-weight="bold" fill="#262626" transform="translate(556.95 754.2) rotate(-30)">HHO</text>
<text x="0" y="0" font-size="13.4" text-anchor="end" font-weight="bold" fill="#262626" transform="translate(587.72 754.2) rotate(-30)">GWO</text>
<text x="0" y="0" font-size="13.4" text-anchor="end" font-weight="bold" fill="#262626" transform="translate(618.49 754.2) rotate(-30)">LCA</text>
<text x="0" y="0" font-size="13.4" text-anchor="end" font-weight="bold" fill="#262626" transform="translate(649.26 754.2) rotate(-30)">ZOA</text>
<text x="0" y="0" font-size="13.4" text-anchor="end" font-weight="bold" fill="#262626" transform="translate(680.03 754.2) rotate(-30)">WOA</text>
<text x="535.75" y="551.1" font-size="14" text-anchor="middle" font-weight="bold" fill="#000">F12</text>
<text x="535.75" y="792.2" font-size="14" text-anchor="middle" font-weight="bold" fill="#262626">Method</text>
<text x="0" y="0" font-size="14.4" text-anchor="middle" font-weight="bold" fill="#262626" transform="translate(358.8 647.75) rotate(-90)">Objective function</text>
<text x="383" y="556.2" font-size="17" fill="#262626" stroke="#262626" stroke-width="0.3">&#215;</text>
<text x="393" y="553.7" font-size="13.2" fill="#262626" stroke="#262626" stroke-width="0.3">10<tspan font-size="9.8" dy="-6.2" dx="0.8">6</tspan></text>
</svg>
</body></html>
